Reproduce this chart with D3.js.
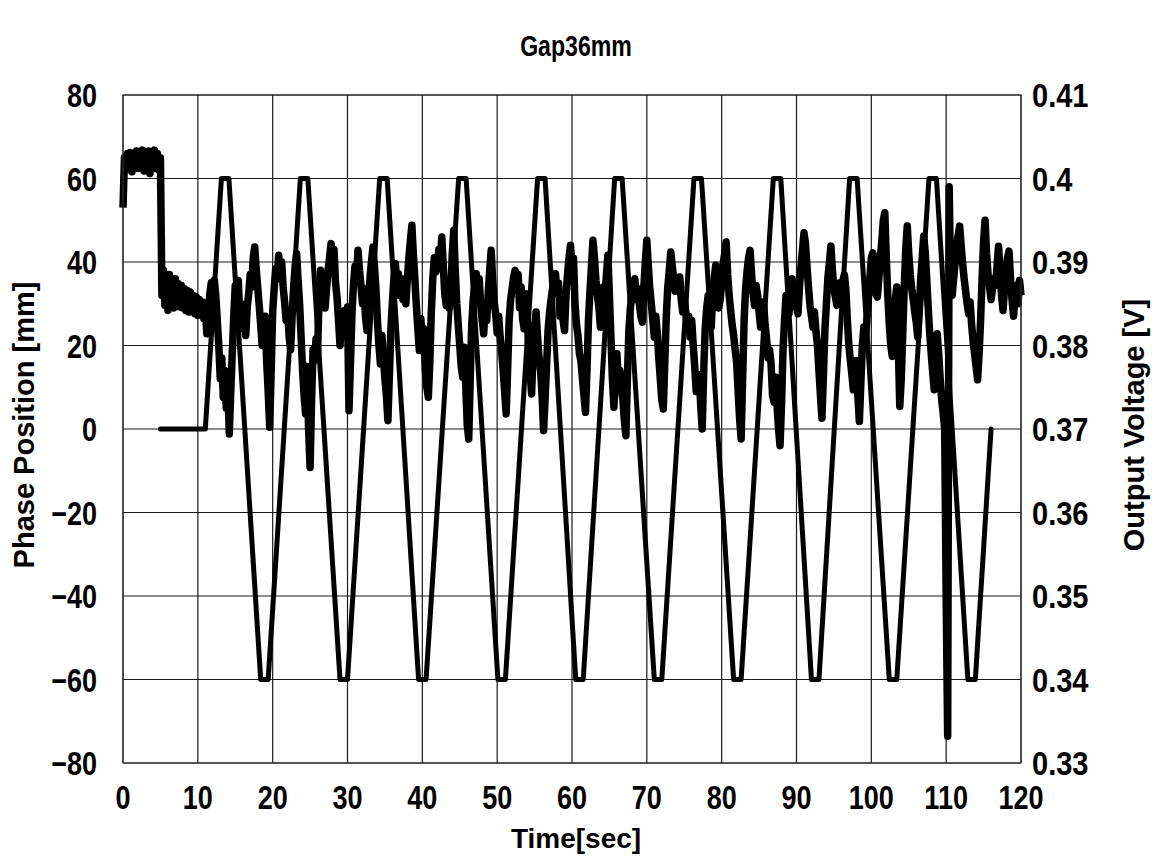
<!DOCTYPE html>
<html>
<head>
<meta charset="utf-8">
<script src="https://cdn.jsdelivr.net/npm/d3@7"></script>
<style>
  body { margin: 0; background: #fff; }
  svg text { font-family: "Liberation Sans", Arial, sans-serif; font-weight: bold; fill: #000; }
</style>
</head>
<body>
<div id="chart"></div>
<script>
// Gap36mm: phase position (left axis) and output voltage (right axis) vs time

const titleText = 'Gap36mm';
const xTicks = [0, 10, 20, 30, 40, 50, 60, 70, 80, 90, 100, 110, 120];
const leftTicks = [-80, -60, -40, -20, 0, 20, 40, 60, 80];
const leftTickLabels = ['\u221280', '\u221260', '\u221240', '\u221220', '0', '20', '40', '60', '80'];
const rightTicks = [0.33, 0.34, 0.35, 0.36, 0.37, 0.38, 0.39, 0.40, 0.41];
const rightTickLabels = ['0.33', '0.34', '0.35', '0.36', '0.37', '0.38', '0.39', '0.4', '0.41'];

// phase position [mm], trapezoid moves
const phaseTime = [5, 11.0, 13.15, 14.15, 18.4, 19.4, 23.7, 24.7, 29.0, 30.0, 34.3, 35.3,
    39.5, 40.5, 44.85, 45.85, 50.1, 51.1, 55.4, 56.4, 60.5, 61.5, 65.7, 66.7, 71.0, 72.0,
    76.3, 77.3, 81.6, 82.6, 86.9, 87.9, 92.0, 93.0, 97.1, 98.1, 102.4, 103.4, 107.7, 108.7,
    112.9, 113.9, 116.0];
const phaseValue = [0, 0, 60, 60, -60, -60, 60, 60, -60, -60, 60, 60,
    -60, -60, 60, 60, -60, -60, 60, 60, -60, -60, 60, 60, -60, -60,
    60, 60, -60, -60, 60, 60, -60, -60, 60, 60, -60, -60, 60, 60,
    -60, -60, 0];

// output voltage [V], logged every 0.2 s from t = 0 to 120 s
const voltStep = 0.2;
const voltValue = [
    // 0 - 10 s
    0.3965, 0.4025, 0.4010, 0.4030, 0.4012, 0.4031, 0.4008, 0.4028, 0.4015, 0.4033,
    0.4012, 0.4030, 0.4018, 0.4034, 0.4009, 0.4032, 0.4014, 0.4033, 0.4006, 0.4030,
    0.4016, 0.4034, 0.4012, 0.4030, 0.4010, 0.4025, 0.3860, 0.3890, 0.3848, 0.3882,
    0.3842, 0.3885, 0.3852, 0.3878, 0.3845, 0.3880, 0.3850, 0.3874, 0.3846, 0.3872,
    0.3845, 0.3868, 0.3842, 0.3866, 0.3840, 0.3864, 0.3842, 0.3860, 0.3838, 0.3858,
    // 10 - 20 s
    0.3836, 0.3855, 0.3838, 0.3852, 0.3832, 0.3848, 0.3814, 0.3840, 0.3862, 0.3875,
    0.3850, 0.3878, 0.3860, 0.3830, 0.3800, 0.3760, 0.3785, 0.3738, 0.3770, 0.3725,
    0.3755, 0.3694, 0.3745, 0.3790, 0.3835, 0.3872, 0.3848, 0.3878, 0.3838, 0.3850,
    0.3820, 0.3842, 0.3812, 0.3846, 0.3862, 0.3885, 0.3870, 0.3905, 0.3918, 0.3892,
    0.3870, 0.3848, 0.3825, 0.3800, 0.3818, 0.3835, 0.3780, 0.3745, 0.3702, 0.3770,
    // 20 - 30 s
    0.3840, 0.3868, 0.3892, 0.3880, 0.3908, 0.3885, 0.3900, 0.3870, 0.3852, 0.3830,
    0.3842, 0.3810, 0.3795, 0.3835, 0.3870, 0.3895, 0.3910, 0.3878, 0.3850, 0.3810,
    0.3770, 0.3740, 0.3718, 0.3775, 0.3700, 0.3654, 0.3735, 0.3795, 0.3782, 0.3808,
    0.3790, 0.3860, 0.3890, 0.3852, 0.3872, 0.3845, 0.3868, 0.3890, 0.3905, 0.3922,
    0.3900, 0.3915, 0.3875, 0.3858, 0.3830, 0.3800, 0.3836, 0.3815, 0.3842, 0.3810,
    // 30 - 40 s
    0.3846, 0.3722, 0.3780, 0.3840, 0.3872, 0.3895, 0.3880, 0.3914, 0.3890, 0.3872,
    0.3850, 0.3868, 0.3835, 0.3818, 0.3850, 0.3880, 0.3900, 0.3918, 0.3895, 0.3868,
    0.3830, 0.3800, 0.3778, 0.3812, 0.3785, 0.3760, 0.3740, 0.3710, 0.3765, 0.3820,
    0.3852, 0.3880, 0.3898, 0.3872, 0.3886, 0.3860, 0.3880, 0.3855, 0.3875, 0.3850,
    0.3880, 0.3905, 0.3925, 0.3944, 0.3910, 0.3880, 0.3848, 0.3820, 0.3794, 0.3832,
    // 40 - 50 s
    0.3805, 0.3820, 0.3770, 0.3750, 0.3738, 0.3780, 0.3840, 0.3880, 0.3905, 0.3888,
    0.3895, 0.3915, 0.3898, 0.3930, 0.3895, 0.3862, 0.3848, 0.3872, 0.3845, 0.3860,
    0.3910, 0.3938, 0.3890, 0.3850, 0.3825, 0.3800, 0.3775, 0.3762, 0.3798, 0.3752,
    0.3705, 0.3688, 0.3760, 0.3825, 0.3855, 0.3872, 0.3886, 0.3868, 0.3880, 0.3848,
    0.3830, 0.3814, 0.3848, 0.3830, 0.3862, 0.3890, 0.3914, 0.3878, 0.3852, 0.3838,
    // 50 - 60 s
    0.3815, 0.3835, 0.3810, 0.3792, 0.3770, 0.3745, 0.3718, 0.3772, 0.3830, 0.3855,
    0.3868, 0.3882, 0.3890, 0.3872, 0.3885, 0.3845, 0.3870, 0.3832, 0.3820, 0.3862,
    0.3835, 0.3800, 0.3770, 0.3742, 0.3790, 0.3822, 0.3840, 0.3810, 0.3785, 0.3770,
    0.3740, 0.3698, 0.3735, 0.3775, 0.3818, 0.3840, 0.3855, 0.3868, 0.3880, 0.3886,
    0.3862, 0.3875, 0.3835, 0.3852, 0.3830, 0.3818, 0.3860, 0.3885, 0.3905, 0.3920,
    // 60 - 70 s
    0.3895, 0.3905, 0.3850, 0.3825, 0.3812, 0.3790, 0.3781, 0.3760, 0.3740, 0.3720,
    0.3770, 0.3830, 0.3865, 0.3895, 0.3926, 0.3905, 0.3878, 0.3860, 0.3845, 0.3822,
    0.3848, 0.3870, 0.3858, 0.3885, 0.3908, 0.3860, 0.3810, 0.3760, 0.3726, 0.3772,
    0.3790, 0.3755, 0.3770, 0.3748, 0.3735, 0.3710, 0.3692, 0.3760, 0.3818, 0.3845,
    0.3860, 0.3872, 0.3880, 0.3855, 0.3868, 0.3850, 0.3835, 0.3828, 0.3870, 0.3900,
    // 70 - 80 s
    0.3926, 0.3895, 0.3868, 0.3850, 0.3830, 0.3810, 0.3835, 0.3815, 0.3785, 0.3760,
    0.3735, 0.3724, 0.3780, 0.3835, 0.3870, 0.3890, 0.3912, 0.3895, 0.3878, 0.3865,
    0.3880, 0.3868, 0.3882, 0.3855, 0.3840, 0.3858, 0.3840, 0.3825, 0.3835, 0.3810,
    0.3830, 0.3800, 0.3775, 0.3745, 0.3755, 0.3765, 0.3728, 0.3700, 0.3770, 0.3820,
    0.3845, 0.3860, 0.3838, 0.3822, 0.3860, 0.3880, 0.3896, 0.3862, 0.3845, 0.3855,
    // 80 - 90 s
    0.3875, 0.3898, 0.3910, 0.3924, 0.3885, 0.3860, 0.3842, 0.3825, 0.3812, 0.3795,
    0.3780, 0.3745, 0.3712, 0.3688, 0.3760, 0.3830, 0.3868, 0.3890, 0.3905, 0.3914,
    0.3885, 0.3862, 0.3848, 0.3872, 0.3860, 0.3840, 0.3822, 0.3835, 0.3852, 0.3825,
    0.3808, 0.3785, 0.3795, 0.3778, 0.3740, 0.3732, 0.3762, 0.3728, 0.3700, 0.3680,
    0.3730, 0.3795, 0.3830, 0.3860, 0.3848, 0.3838, 0.3870, 0.3880, 0.3858, 0.3872,
    // 90 - 100 s
    0.3845, 0.3838, 0.3870, 0.3895, 0.3915, 0.3935, 0.3922, 0.3895, 0.3870, 0.3848,
    0.3835, 0.3822, 0.3840, 0.3818, 0.3800, 0.3770, 0.3740, 0.3713, 0.3765, 0.3820,
    0.3850, 0.3882, 0.3900, 0.3919, 0.3890, 0.3868, 0.3858, 0.3848, 0.3862, 0.3875,
    0.3860, 0.3878, 0.3885, 0.3866, 0.3830, 0.3800, 0.3782, 0.3765, 0.3747, 0.3770,
    0.3782, 0.3740, 0.3709, 0.3755, 0.3800, 0.3822, 0.3805, 0.3830, 0.3855, 0.3880,
    // 100 - 110 s
    0.3905, 0.3911, 0.3875, 0.3862, 0.3858, 0.3880, 0.3905, 0.3925, 0.3950, 0.3959,
    0.3905, 0.3860, 0.3825, 0.3800, 0.3787, 0.3825, 0.3855, 0.3870, 0.3800, 0.3727,
    0.3760, 0.3815, 0.3870, 0.3915, 0.3943, 0.3910, 0.3885, 0.3868, 0.3855, 0.3840,
    0.3828, 0.3810, 0.3845, 0.3880, 0.3905, 0.3931, 0.3912, 0.3880, 0.3845, 0.3815,
    0.3790, 0.3768, 0.3747, 0.3770, 0.3814, 0.3790, 0.3760, 0.3735, 0.3719, 0.3700,
    // 110 - 120 s
    0.3500, 0.3332, 0.3990, 0.3875, 0.3860, 0.3880, 0.3900, 0.3918, 0.3932, 0.3943,
    0.3920, 0.3898, 0.3880, 0.3865, 0.3850, 0.3838, 0.3852, 0.3825, 0.3805, 0.3790,
    0.3775, 0.3759, 0.3790, 0.3830, 0.3880, 0.3925, 0.3950, 0.3910, 0.3885, 0.3870,
    0.3855, 0.3868, 0.3880, 0.3872, 0.3895, 0.3919, 0.3890, 0.3860, 0.3842, 0.3868,
    0.3888, 0.3905, 0.3913, 0.3880, 0.3855, 0.3835, 0.3858, 0.3872, 0.3850, 0.3878,
    0.3860
];

const W = 1152, H = 860;
const margin = {top: 95, right: 131, bottom: 97, left: 123};
const innerW = W - margin.left - margin.right;
const innerH = H - margin.top - margin.bottom;

const svg = d3.select('#chart').append('svg')
    .attr('width', W)
    .attr('height', H);

const g = svg.append('g')
    .attr('transform', `translate(${margin.left},${margin.top})`);

const x = d3.scaleLinear().domain([0, 120]).range([0, innerW]);
const yL = d3.scaleLinear().domain([-80, 80]).range([innerH, 0]);
const yR = d3.scaleLinear().domain([0.33, 0.41]).range([innerH, 0]);

// grid
g.append('g')
    .selectAll('line')
    .data(xTicks)
    .enter()
    .append('line')
    .attr('x1', d => x(d)).attr('x2', d => x(d))
    .attr('y1', 0).attr('y2', innerH)
    .attr('stroke', '#1a1a1a')
    .attr('stroke-width', 1.2);

g.append('g')
    .selectAll('line')
    .data(leftTicks)
    .enter()
    .append('line')
    .attr('x1', 0).attr('x2', innerW)
    .attr('y1', d => yL(d)).attr('y2', d => yL(d))
    .attr('stroke', '#1a1a1a')
    .attr('stroke-width', 1.2);

// tick labels: narrow bold digits, like the original
const tickFont = 33, narrow = 0.82, capShift = 12;

g.append('g')
    .selectAll('text')
    .data(leftTicks)
    .enter()
    .append('text')
    .attr('transform', d => `translate(-26,${yL(d) + capShift}) scale(${narrow},1)`)
    .attr('text-anchor', 'end')
    .style('font-size', tickFont + 'px')
    .text((d, i) => leftTickLabels[i]);

g.append('g')
    .selectAll('text')
    .data(rightTicks)
    .enter()
    .append('text')
    .attr('transform', d => `translate(${innerW + 11},${yR(d) + capShift}) scale(0.88,1)`)
    .attr('text-anchor', 'start')
    .style('font-size', tickFont + 'px')
    .text((d, i) => rightTickLabels[i]);

g.append('g')
    .selectAll('text')
    .data(xTicks)
    .enter()
    .append('text')
    .attr('transform', d => `translate(${x(d)},${innerH + 46}) scale(${narrow},1)`)
    .attr('text-anchor', 'middle')
    .style('font-size', tickFont + 'px')
    .text(d => String(d));

// series
const phaseLine = d3.line()
    .x(d => x(d[0]))
    .y(d => yL(d[1]));

const voltLine = d3.line()
    .x(d => x(d[0]))
    .y(d => yR(d[1]));

g.append('path')
    .datum(voltValue.map((v, i) => [i * voltStep, v]))
    .attr('fill', 'none')
    .attr('stroke', '#000')
    .attr('stroke-width', 7.5)
    .attr('stroke-linejoin', 'round')
    .attr('d', voltLine);

g.append('path')
    .datum(phaseTime.map((t, i) => [t, phaseValue[i]]))
    .attr('fill', 'none')
    .attr('stroke', '#000')
    .attr('stroke-width', 5)
    .attr('stroke-linejoin', 'round')
    .attr('stroke-linecap', 'round')
    .attr('d', phaseLine);

// frame
g.append('rect')
    .attr('x', 0).attr('y', 0)
    .attr('width', innerW).attr('height', innerH)
    .attr('fill', 'none')
    .attr('stroke', '#333')
    .attr('stroke-width', 1.2);

// titles
svg.append('text')
    .attr('transform', 'translate(576,56) scale(0.77,1)')
    .attr('text-anchor', 'middle')
    .style('font-size', '30px')
    .text(titleText);

svg.append('text')
    .attr('x', 576).attr('y', 848)
    .attr('text-anchor', 'middle')
    .style('font-size', '28px')
    .text('Time[sec]');

svg.append('text')
    .attr('transform', 'translate(34,425) rotate(-90)')
    .attr('text-anchor', 'middle')
    .style('font-size', '29px')
    .text('Phase Position [mm]');

svg.append('text')
    .attr('transform', 'translate(1144,425) rotate(-90)')
    .attr('text-anchor', 'middle')
    .style('font-size', '29px')
    .text('Output Voltage [V]');
</script>
</body>
</html>
